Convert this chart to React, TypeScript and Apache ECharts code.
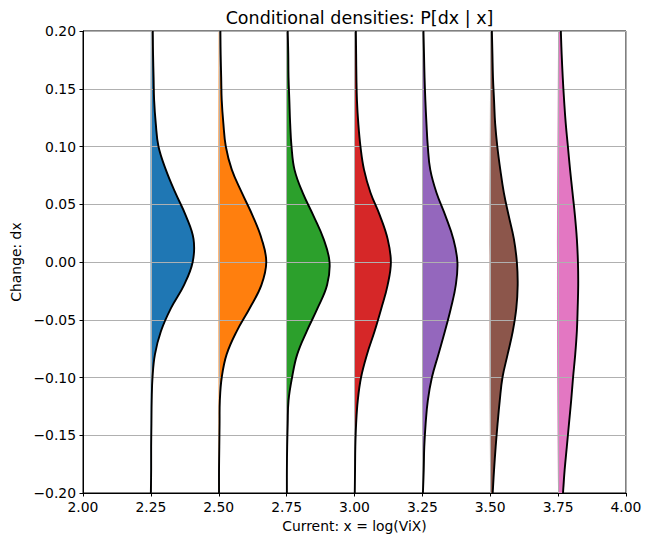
import React, { useEffect, useRef } from 'react';
import * as echarts from 'echarts';

// change levels (dx), top to bottom
const dxLevels = [0.2, 0.18, 0.16, 0.14, 0.12, 0.1, 0.08, 0.06, 0.04, 0.02, 0.0, -0.02, -0.04, -0.06, -0.08, -0.1, -0.12, -0.14, -0.16, -0.18, -0.2];
// current levels x = log(VIX), base of each density
const baseX = [2.25, 2.5, 2.75, 3.0, 3.25, 3.5, 3.75];
const colors = ['#1f77b4', '#ff7f0e', '#2ca02c', '#d62728', '#9467bd', '#8c564b', '#e377c2'];
// horizontal extent of each conditional density (x-axis units) at every dx level
const dens225 = [0.007, 0.008, 0.010, 0.012, 0.018, 0.028, 0.055, 0.090, 0.129, 0.157, 0.154, 0.122, 0.074, 0.037, 0.015, 0.006, 0.003, 0.002, 0.001, 0.001, 0.000];
const dens250 = [0.006, 0.007, 0.009, 0.011, 0.017, 0.026, 0.048, 0.085, 0.125, 0.158, 0.175, 0.157, 0.114, 0.066, 0.029, 0.011, 0.004, 0.003, 0.002, 0.001, 0.001];
const dens275 = [0.004, 0.006, 0.007, 0.010, 0.013, 0.018, 0.029, 0.059, 0.099, 0.136, 0.158, 0.149, 0.114, 0.074, 0.039, 0.020, 0.007, 0.004, 0.002, 0.001, 0.001];
const dens300 = [0.005, 0.006, 0.007, 0.009, 0.014, 0.022, 0.035, 0.059, 0.094, 0.122, 0.134, 0.122, 0.099, 0.074, 0.046, 0.024, 0.012, 0.006, 0.003, 0.002, 0.001];
const dens325 = [0.004, 0.006, 0.008, 0.011, 0.015, 0.020, 0.029, 0.052, 0.085, 0.114, 0.129, 0.123, 0.105, 0.083, 0.059, 0.035, 0.020, 0.012, 0.007, 0.005, 0.002];
const dens350 = [0.006, 0.008, 0.010, 0.014, 0.018, 0.026, 0.037, 0.050, 0.068, 0.087, 0.098, 0.101, 0.096, 0.083, 0.064, 0.045, 0.035, 0.027, 0.020, 0.014, 0.009];
const dens375 = [0.010, 0.013, 0.017, 0.022, 0.028, 0.036, 0.044, 0.053, 0.062, 0.069, 0.073, 0.074, 0.072, 0.069, 0.063, 0.055, 0.048, 0.040, 0.032, 0.024, 0.018];
const densities = [dens225, dens250, dens275, dens300, dens325, dens350, dens375];

const FONT = 'DejaVu Sans';
const fmt = (v: number) => (v < 0 ? '\u2212' + Math.abs(v).toFixed(2) : v.toFixed(2));

export default function App() {
  const ref = useRef<HTMLDivElement>(null);
  useEffect(() => {
    if (!ref.current) return;
    const chart = echarts.init(ref.current, null, { renderer: 'svg' });
    const curvePoints = (k: number, api: any) =>
      dxLevels.map((dy, j) => api.coord([baseX[k] + densities[k][j], dy]));
    const seriesData = baseX.map((b, i) => [b, 0, i]);
    chart.setOption({
      animation: false,
      backgroundColor: '#fff',
      title: {
        text: 'Conditional densities: P[dx | x]',
        left: 354.5,
        top: 4,
        textAlign: 'center',
        textStyle: { fontFamily: FONT, fontSize: 17.5, fontWeight: 'normal', color: '#000' },
      },
      grid: {
        left: 83, right: 24, top: 31, bottom: 53,
        show: true, borderColor: '#000', borderWidth: 1, backgroundColor: '#fff',
      },
      xAxis: {
        type: 'value', min: 2, max: 4, interval: 0.25, z: 2,
        name: 'Current: x = log(ViX)', nameLocation: 'middle', nameGap: 24,
        nameTextStyle: { fontFamily: FONT, fontSize: 13.9, color: '#000' },
        axisLine: { onZero: false, lineStyle: { color: '#000', width: 1 } },
        axisTick: { show: true, length: 3.5, lineStyle: { color: '#000', width: 1 } },
        axisLabel: { margin: 7, fontFamily: FONT, fontSize: 13.9, color: '#000', formatter: fmt },
        splitLine: { show: true, lineStyle: { color: '#b0b0b0', width: 1 } },
      },
      yAxis: {
        type: 'value', min: -0.2, max: 0.2, interval: 0.05, z: 2,
        name: 'Change: dx', nameLocation: 'middle', nameGap: 58,
        nameTextStyle: { fontFamily: FONT, fontSize: 13.9, color: '#000' },
        axisLine: { show: true, onZero: false, lineStyle: { color: '#000', width: 1 } },
        axisTick: { show: true, length: 3.5, lineStyle: { color: '#000', width: 1 } },
        axisLabel: { margin: 7, fontFamily: FONT, fontSize: 13.9, color: '#000', formatter: fmt },
        splitLine: { show: true, lineStyle: { color: '#b0b0b0', width: 1 } },
      },
      series: [
        {
          type: 'custom', z: 1, clip: true, silent: true,
          data: seriesData,
          renderItem: (params: any, api: any) => {
            const k = params.dataIndex;
            const pts = curvePoints(k, api);
            const top = api.coord([baseX[k], dxLevels[0]]);
            const bot = api.coord([baseX[k], dxLevels[dxLevels.length - 1]]);
            return {
              type: 'polygon',
              shape: { points: [...pts, bot, top], smooth: 0.4 },
              style: { fill: colors[k], stroke: null },
            };
          },
        },
        {
          type: 'custom', z: 3, clip: true, silent: true,
          data: seriesData,
          renderItem: (params: any, api: any) => {
            const k = params.dataIndex;
            return {
              type: 'polyline',
              shape: { points: curvePoints(k, api), smooth: 0.4 },
              style: { fill: null, stroke: '#000', lineWidth: 1.9 },
            };
          },
        },
      ],
    });
    return () => chart.dispose();
  }, []);
  return <div ref={ref} style={{ width: 650, height: 546, position: 'absolute', left: 0, top: 0 }} />;
}
